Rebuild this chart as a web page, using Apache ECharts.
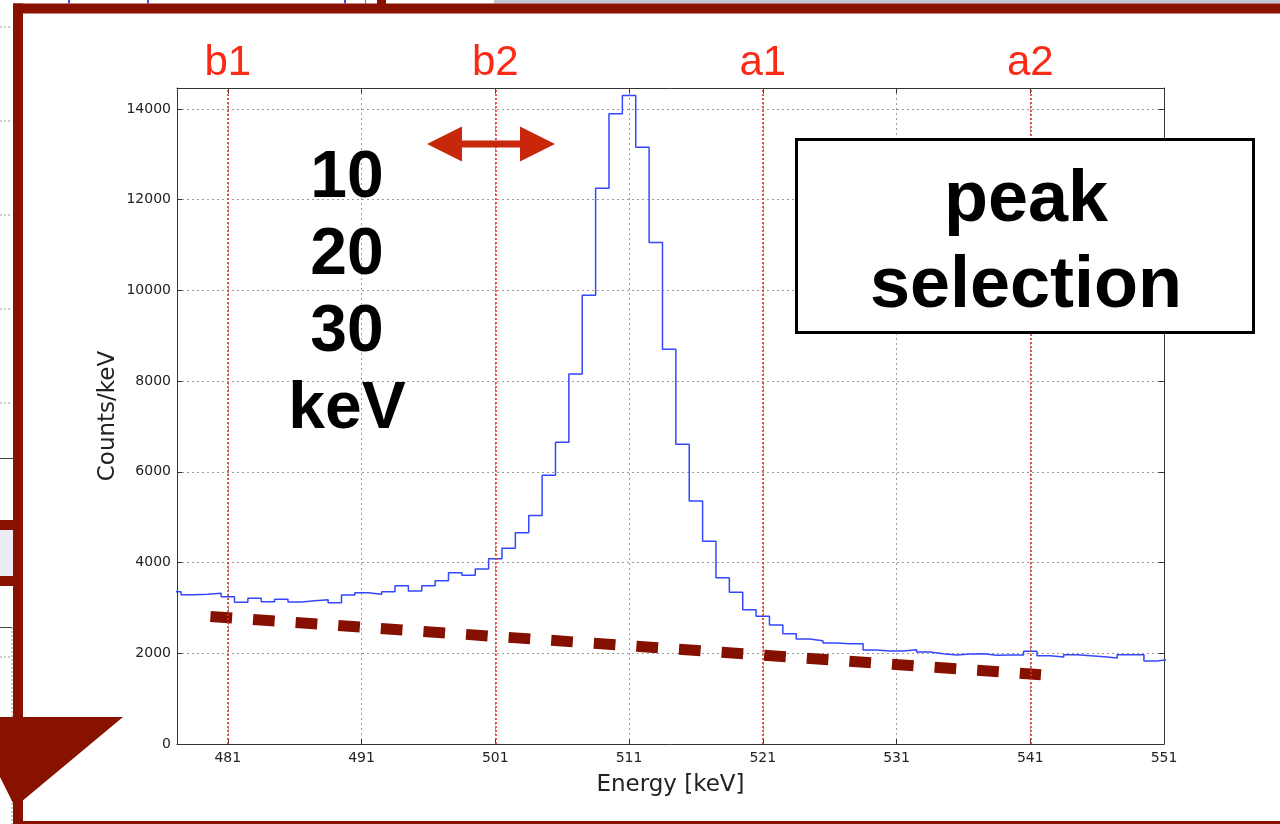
<!DOCTYPE html>
<html>
<head>
<meta charset="utf-8">
<script src="https://cdn.jsdelivr.net/npm/echarts@6/dist/echarts.min.js"></script>
<style>
  html, body { margin: 0; padding: 0; background: #ffffff; }
  #chart { width: 1280px; height: 824px; }
</style>
</head>
<body>
<div id="chart"></div>
<script>
// Spectrum around the 511 keV annihilation peak, 1 keV bins (bin centres)
const binEnergies = [
  477, 478, 479, 480, 481, 482, 483, 484, 485, 486,
  487, 488, 489, 490, 491, 492, 493, 494, 495, 496,
  497, 498, 499, 500, 501, 502, 503, 504, 505, 506,
  507, 508, 509, 510, 511, 512, 513, 514, 515, 516,
  517, 518, 519, 520, 521, 522, 523, 524, 525, 526,
  527, 528, 529, 530, 531, 532, 533, 534, 535, 536,
  537, 538, 539, 540, 541, 542, 543, 544, 545, 546,
  547, 548, 549, 550, 551
];
const binCounts = [
  3358, 3292, 3300, 3322, 3248, 3124, 3212, 3138, 3190, 3130,
  3160, 3182, 3116, 3285, 3336, 3300, 3358, 3490, 3373, 3490,
  3600, 3777, 3718, 3855, 4086, 4314, 4659, 5034, 5924, 6651,
  8157, 9890, 12250, 13890, 14292, 13155, 11052, 8702, 6607, 5357,
  4468, 3667, 3344, 2961, 2814, 2623, 2432, 2315, 2278, 2227,
  2211, 2211, 2072, 2050, 2050, 2080, 2028, 1991, 1962, 1984,
  1991, 1955, 1962, 1962, 2043, 1947, 1918, 1969, 1947, 1925,
  1896, 1969, 1969, 1830, 1874
];

// Sideband / peak window boundaries
const windowNames = ['b1', 'b2', 'a1', 'a2'];
const windowEnergies = [481, 501, 521, 541];

// Linear background estimate under the peak
const backgroundEnergies = [479.7, 541.8];
const backgroundCounts = [2811, 1528];

// Axis ticks
const xTickValues = [481, 491, 501, 511, 521, 531, 541, 551];
const yTickValues = [0, 2000, 4000, 6000, 8000, 10000, 12000, 14000];

// Annotation text
const widthLines = ['10', '20', '30', 'keV'];
const boxLines = ['peak', 'selection'];

// Histogram outline: one point per left bin edge plus the closing right edge
const histPoints = binEnergies.map((e, i) => [e - 0.5, binCounts[i]]);
histPoints.push([binEnergies[binEnergies.length - 1] + 0.5, binCounts[binCounts.length - 1]]);

const backgroundPoints = backgroundEnergies.map((e, i) => [e, backgroundCounts[i]]);

const FRAME = '#881100';
const tickFont = { fontFamily: 'DejaVu Sans', fontSize: 14, color: '#222', formatter: v => String(v) };
const gridDots = { color: '#9a9a9a', width: 1, type: [2, 3] };

const chart = echarts.init(document.getElementById('chart'), null, { renderer: 'canvas' });

const graphics = [
  // strip of the neighbouring slide above the frame
  { type: 'rect', shape: { x: 494, y: 0, width: 786, height: 3.5 }, style: { fill: '#c6c8d6' }, z: 0 },
  { type: 'rect', shape: { x: 68, y: 0, width: 2, height: 3.5 }, style: { fill: '#4a4af0' }, z: 0 },
  { type: 'rect', shape: { x: 147, y: 0, width: 2, height: 3.5 }, style: { fill: '#4a4af0' }, z: 0 },
  { type: 'rect', shape: { x: 344, y: 0, width: 2, height: 3.5 }, style: { fill: '#4a4af0' }, z: 0 },
  { type: 'rect', shape: { x: 365, y: 0, width: 1, height: 3.5 }, style: { fill: '#777' }, z: 0 },
  { type: 'rect', shape: { x: 377, y: 0, width: 9, height: 5 }, style: { fill: FRAME }, z: 0 },
  // strip of the neighbouring slide on the left
  ...[27, 121, 215, 309, 403, 657].map(y => ({
    type: 'line', shape: { x1: 0, y1: y, x2: 12, y2: y },
    style: { stroke: '#999', lineWidth: 1, lineDash: [2, 2] }, z: 0
  })),
  { type: 'line', shape: { x1: 0, y1: 458.5, x2: 13, y2: 458.5 }, style: { stroke: '#444', lineWidth: 1 }, z: 0 },
  { type: 'rect', shape: { x: 0, y: 520, width: 13, height: 10 }, style: { fill: FRAME }, z: 0 },
  { type: 'rect', shape: { x: 0, y: 530, width: 13, height: 46 }, style: { fill: '#ececf4' }, z: 0 },
  { type: 'rect', shape: { x: 0, y: 576, width: 13, height: 10 }, style: { fill: FRAME }, z: 0 },
  { type: 'line', shape: { x1: 0, y1: 627.5, x2: 12, y2: 627.5 }, style: { stroke: '#444', lineWidth: 1 }, z: 0 },
  { type: 'line', shape: { x1: 12, y1: 627, x2: 12, y2: 824 }, style: { stroke: '#999', lineWidth: 1, lineDash: [2, 2] }, z: 0 },
  // slide frame
  { type: 'rect', shape: { x: 13, y: 3.5, width: 1267, height: 10 }, style: { fill: FRAME }, z: 1 },
  { type: 'rect', shape: { x: 13, y: 3.5, width: 10, height: 821 }, style: { fill: FRAME }, z: 1 },
  { type: 'rect', shape: { x: 13, y: 821, width: 1267, height: 3 }, style: { fill: FRAME }, z: 1 },
  // downward arrow head at the bottom left
  { type: 'polygon', shape: { points: [[-30, 717], [123, 717], [15, 807]] }, style: { fill: FRAME }, z: 1 },
  // double-headed arrow: window width
  {
    type: 'polygon',
    shape: { points: [[427, 144], [462, 126.5], [462, 140.6], [520, 140.6], [520, 126.5], [555, 144],
                      [520, 161.5], [520, 147.4], [462, 147.4], [462, 161.5]] },
    style: { fill: '#c9270b' }, z: 50
  },
  // window widths
  ...widthLines.map((t, i) => ({
    type: 'text', z: 50,
    style: {
      text: t, x: 347, y: 178.5 + i * 77,
      font: 'bold 66px "Liberation Sans", Arial, sans-serif',
      fill: '#000', align: 'center', verticalAlign: 'middle'
    }
  })),
  // label box
  { type: 'rect', shape: { x: 796.5, y: 139.5, width: 457, height: 193 },
    style: { fill: '#fff', stroke: '#000', lineWidth: 3 }, z: 60 },
  ...boxLines.map((t, i) => ({
    type: 'text', z: 61,
    style: {
      text: t, x: 1026, y: 201 + i * 86,
      font: 'bold 72px "Liberation Sans", Arial, sans-serif',
      fill: '#000', align: 'center', verticalAlign: 'middle'
    }
  }))
];

const option = {
  backgroundColor: '#ffffff',
  animation: false,
  grid: { left: 177, right: 116, top: 88, bottom: 80, show: false, containLabel: false },
  xAxis: [
    {
      type: 'value', min: 477.2, max: 551, position: 'bottom',
      name: 'Energy [keV]', nameLocation: 'middle', nameGap: 30,
      nameTextStyle: { fontFamily: 'DejaVu Sans', fontSize: 23, color: '#222' },
      axisLine: { show: true, onZero: false, lineStyle: { color: '#333', width: 1 } },
      axisTick: { show: true, inside: true, length: 5, customValues: xTickValues, lineStyle: { color: '#333' } },
      axisLabel: { show: true, margin: 7, customValues: xTickValues, ...tickFont },
      splitLine: { show: true, lineStyle: gridDots }
    },
    {
      type: 'value', min: 477.2, max: 551, position: 'top',
      axisLine: { show: true, onZero: false, lineStyle: { color: '#333', width: 1 } },
      axisTick: { show: true, inside: true, length: 5, customValues: xTickValues, lineStyle: { color: '#333' } },
      axisLabel: { show: false },
      splitLine: { show: false }
    }
  ],
  yAxis: [
    {
      type: 'value', min: 0, max: 14460, position: 'left',
      name: 'Counts/keV', nameLocation: 'middle', nameGap: 57, nameRotate: 90,
      nameMoveOverlap: false,
      nameTextStyle: { fontFamily: 'DejaVu Sans', fontSize: 23, color: '#222' },
      axisLine: { show: true, onZero: false, lineStyle: { color: '#333', width: 1 } },
      axisTick: { show: true, inside: true, length: 5, customValues: yTickValues, lineStyle: { color: '#333' } },
      axisLabel: { show: true, margin: 6, customValues: yTickValues, ...tickFont },
      splitLine: { show: true, lineStyle: gridDots }
    },
    {
      type: 'value', min: 0, max: 14460, position: 'right',
      axisLine: { show: true, onZero: false, lineStyle: { color: '#333', width: 1 } },
      axisTick: { show: true, inside: true, length: 5, customValues: yTickValues, lineStyle: { color: '#333' } },
      axisLabel: { show: false },
      splitLine: { show: false }
    }
  ],
  series: [
    {
      name: 'background',
      type: 'line',
      xAxisIndex: 0, yAxisIndex: 0,
      data: backgroundPoints,
      symbol: 'none',
      z: 3,
      lineStyle: { color: '#861000', width: 11, type: [21.7, 21], cap: 'butt' },
      silent: true
    },
    {
      name: 'spectrum',
      type: 'line',
      xAxisIndex: 0, yAxisIndex: 0,
      data: histPoints,
      step: 'end',
      symbol: 'none',
      z: 4,
      lineStyle: { color: '#3347ff', width: 1.5 },
      markLine: {
        silent: true,
        symbol: ['none', 'none'],
        lineStyle: { color: '#e0302c', width: 1.6, type: [2, 2] },
        label: {
          show: true, position: 'end', distance: 4,
          fontFamily: '"Liberation Sans", Arial, sans-serif', fontSize: 42,
          color: '#fa2a16', formatter: p => p.name
        },
        data: windowEnergies.map((e, i) => ({ name: windowNames[i], xAxis: e }))
      }
    }
  ],
  graphic: graphics
};

chart.setOption(option);
</script>
</body>
</html>
